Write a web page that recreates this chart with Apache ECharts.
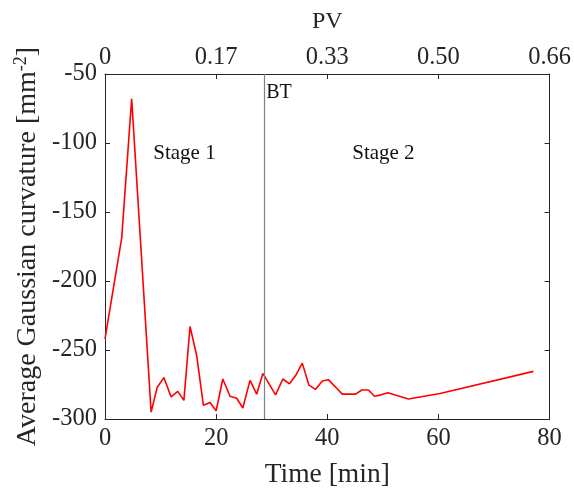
<!DOCTYPE html>
<html><head><meta charset="utf-8">
<script src="https://cdn.jsdelivr.net/npm/echarts@6/dist/echarts.min.js"></script>
<style>html,body{margin:0;padding:0;background:#fff}#c{width:574px;height:494px}</style>
</head><body><div id="c"></div>
<script>
const timeMin = [0, 3.0, 4.8, 8.3, 9.4, 10.6, 11.9, 13.1, 14.2, 15.3, 16.5, 17.7, 18.9, 20.0, 21.2, 22.5, 23.7, 24.8, 26.1, 27.3, 28.4, 30.7, 32.0, 33.2, 34.3, 35.5, 36.7, 37.9, 39.1, 40.2, 41.4, 42.7, 45.1, 46.2, 47.4, 48.5, 49.7, 50.9, 54.6, 60.3, 77.1];
const curvature = [-242, -169, -68, -295, -277, -270, -284, -280, -286.5, -233, -254, -290, -288, -294, -271, -283.5, -285, -292, -272, -282, -267, -282.5, -271, -274.5, -268.5, -259.5, -275.5, -278.5, -272.5, -271.5, -276.5, -282, -282, -279, -279, -283.5, -282.5, -281, -285.5, -281.5, -265.5];
const bottomTicks = ['0', '20', '40', '60', '80'];
const pvTicks = ['0', '0.17', '0.33', '0.50', '0.66'];
const btTime = 28.7;
const annotations = [
  {text: 'Stage 1', t: 14.3, v: -107.7},
  {text: 'Stage 2', t: 50.1, v: -107.7}
];
const btLabel = {text: 'BT', t: 31.3, v: -63.5};

const font = 'Liberation Serif';
const axisCol = '#262626';
const chart = echarts.init(document.getElementById('c'));
const axisCommon = {
  min: 0, max: 80, interval: 20,
  axisLine: {show: true, onZero: false, lineStyle: {color: axisCol, width: 1}},
  axisTick: {show: true, inside: true, length: 5, lineStyle: {color: axisCol}},
  splitLine: {show: false}
};
chart.setOption({
  animation: false,
  grid: {left: 105, right: 17, top: 74, bottom: 69, containLabel: false},
  xAxis: [
    Object.assign({}, axisCommon, {
      type: 'value', position: 'bottom',
      name: 'Time [min]', nameLocation: 'middle', nameGap: 42,
      nameTextStyle: {fontFamily: font, fontSize: 27.5, color: axisCol},
      axisLabel: {fontFamily: font, fontSize: 24.5, color: axisCol, margin: 7,
        formatter: v => bottomTicks[Math.round(v / 20)]}
    }),
    Object.assign({}, axisCommon, {
      type: 'value', position: 'top',
      name: 'PV', nameLocation: 'middle', nameGap: 40,
      nameTextStyle: {fontFamily: font, fontSize: 24, color: axisCol},
      axisLabel: {fontFamily: font, fontSize: 24.5, color: axisCol, margin: 4,
        formatter: v => pvTicks[Math.round(v / 20)]}
    })
  ],
  yAxis: [
    {
      type: 'value', position: 'left', min: -300, max: -50, interval: 50,
      axisLine: {show: true, onZero: false, lineStyle: {color: axisCol, width: 1}},
      axisTick: {show: true, inside: true, length: 5, lineStyle: {color: axisCol}},
      splitLine: {show: false},
      axisLabel: {fontFamily: font, fontSize: 24.5, color: axisCol, margin: 8},
      name: '{n|Average Gaussian curvature [mm}{s|-2}{n|]}',
      nameLocation: 'middle', nameGap: 60, nameRotate: 90,
      nameTextStyle: {fontFamily: font, fontSize: 28, color: axisCol,
        rich: {n: {fontFamily: font, fontSize: 28, color: axisCol},
               s: {fontFamily: font, fontSize: 18, color: axisCol, verticalAlign: 'top', padding: [0, 0, 12, 0]}}}
    },
    {
      type: 'value', position: 'right', min: -300, max: -50, interval: 50,
      axisLine: {show: true, onZero: false, lineStyle: {color: axisCol, width: 1}},
      axisTick: {show: true, inside: true, length: 5, lineStyle: {color: axisCol}},
      axisLabel: {show: false}, splitLine: {show: false}
    }
  ],
  series: [
    {
      type: 'line', xAxisIndex: 0, yAxisIndex: 0,
      data: timeMin.map((t, i) => [t, curvature[i]]),
      showSymbol: false, symbol: 'none',
      lineStyle: {color: '#ff0000', width: 1.6},
      markLine: {
        silent: true, symbol: ['none', 'none'], label: {show: false},
        lineStyle: {color: '#808080', width: 1.2, type: 'solid'},
        data: [{xAxis: btTime}]
      },
      markPoint: {
        silent: true, symbol: 'circle', symbolSize: 0,
        data: annotations.map(a => ({coord: [a.t, a.v], value: a.text,
          label: {show: true, position: 'inside', formatter: a.text, fontFamily: font, fontSize: 21, color: '#111'}}))
          .concat([{coord: [btLabel.t, btLabel.v], value: btLabel.text,
          label: {show: true, position: 'inside', formatter: btLabel.text, fontFamily: font, fontSize: 20, color: '#111'}}])
      }
    }
  ]
});
</script></body></html>
